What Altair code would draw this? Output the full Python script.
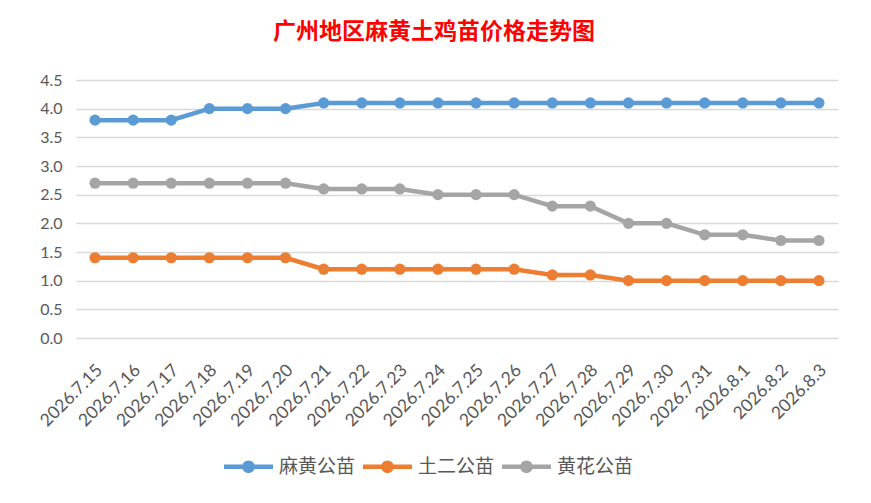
import altair as alt
import pandas as pd

dates = ["2026.7.15", "2026.7.16", "2026.7.17", "2026.7.18", "2026.7.19", "2026.7.20",
         "2026.7.21", "2026.7.22", "2026.7.23", "2026.7.24", "2026.7.25", "2026.7.26",
         "2026.7.27", "2026.7.28", "2026.7.29", "2026.7.30", "2026.7.31", "2026.8.1",
         "2026.8.2", "2026.8.3"]
series_names = ["麻黄公苗", "土二公苗", "黄花公苗"]
mahuang = [3.8, 3.8, 3.8, 4.0, 4.0, 4.0, 4.1, 4.1, 4.1, 4.1, 4.1, 4.1, 4.1, 4.1, 4.1, 4.1, 4.1, 4.1, 4.1, 4.1]
tuer = [1.4, 1.4, 1.4, 1.4, 1.4, 1.4, 1.2, 1.2, 1.2, 1.2, 1.2, 1.2, 1.1, 1.1, 1.0, 1.0, 1.0, 1.0, 1.0, 1.0]
huanghua = [2.7, 2.7, 2.7, 2.7, 2.7, 2.7, 2.6, 2.6, 2.6, 2.5, 2.5, 2.5, 2.3, 2.3, 2.0, 2.0, 1.8, 1.8, 1.7, 1.7]
colors = ["#5B9BD5", "#ED7D31", "#A5A5A5"]

rows = []
for name, vals in zip(series_names, [mahuang, tuer, huanghua]):
    for d, v in zip(dates, vals):
        rows.append({"date": d, "series": name, "value": v})
df = pd.DataFrame(rows)

color_scale = alt.Scale(domain=series_names, range=colors)
x_enc = alt.X("date:N", sort=dates, title=None,
              axis=alt.Axis(labelAngle=-45, labelAlign="right", labelBaseline="top",
                            labelFontSize=17.5, labelColor="#595959",
                            labelFont="Lato", domain=False, ticks=False, labelPadding=23,
                            labelOffset=-2))
y_enc = alt.Y("value:Q", title=None,
              scale=alt.Scale(domain=[0, 4.5], nice=False),
              axis=alt.Axis(values=[0, 0.5, 1, 1.5, 2, 2.5, 3, 3.5, 4, 4.5], format=".1f",
                            labelFontSize=16, labelColor="#595959", labelFont="Lato",
                            domain=False, ticks=False, labelPadding=14,
                            gridColor="#D9D9D9", gridWidth=1.3))

line = alt.Chart(df).mark_line(strokeWidth=4.5).encode(
    x=x_enc, y=y_enc,
    color=alt.Color("series:N", scale=color_scale, legend=None),
    detail="series:N",
)

legend_path = ("M-1,-0.09 H1 V0.09 H-1 Z "
               "M0.26,0 A0.26,0.26 0 1,1 -0.26,0 A0.26,0.26 0 1,1 0.26,0 Z")

points = alt.Chart(df).mark_point(filled=True, size=125, opacity=1).encode(
    x=x_enc, y=y_enc,
    color=alt.Color("series:N", scale=color_scale, title=None,
                    legend=alt.Legend(orient="none", legendX=148, legendY=362,
                                      direction="horizontal", symbolType=legend_path,
                                      symbolSize=2401, symbolStrokeWidth=0,
                                      labelFontSize=19, labelColor="#595959",
                                      labelFont="Noto Sans CJK SC", columnPadding=7,
                                      labelOffset=6, symbolOpacity=1)),
)

chart = alt.layer(line, points).resolve_legend(color="independent").properties(
    width=762, height=258,
    title=alt.TitleParams("广州地区麻黄土鸡苗价格走势图", color="#FF0000", fontSize=23,
                          font="Noto Sans CJK SC", fontWeight="bold", anchor="middle",
                          dx=-23, offset=28),
    autosize=alt.AutoSizeParams(type="none"),
    padding={"left": 68, "top": 72, "right": 25, "bottom": 157},
    background="white",
).configure_view(stroke=None)

chart.save("out.html", embed_options={"renderer": "svg", "actions": False})
